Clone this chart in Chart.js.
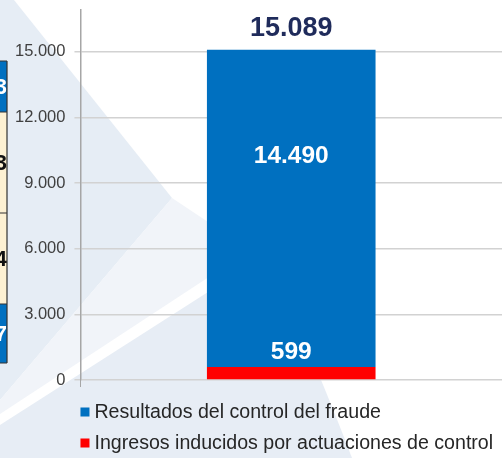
<!DOCTYPE html>
<html>
<head>
<meta charset="utf-8">
<script src="https://cdn.jsdelivr.net/npm/chart.js@4.4.1/dist/chart.umd.min.js"></script>
<style>
  html, body { margin: 0; padding: 0; background: #fff; }
  #wrap { width: 502px; height: 458px; position: relative; }
</style>
</head>
<body>
<div id="wrap"><canvas id="fraude"></canvas></div>
<script>
// ── Data ────────────────────────────────────────────────────────────
const categories = [''];
const ingresosInducidos = [599];
const resultadosControl = [14490];
const seriesNames = ['Ingresos inducidos por actuaciones de control', 'Resultados del control del fraude'];
const yTicks = [0, 3000, 6000, 9000, 12000, 15000];

// cut-off table cells seen on the left edge
const tableDigits = ['3', '3', '4', '7'];

const COLORS = { blue: '#0070C0', red: '#FF0000', navy: '#1F2B5B', text: '#262626' };
const FONT = "'Liberation Sans', Arial, sans-serif";

const fmt = v => String(v).replace(/\B(?=(\d{3})+(?!\d))/g, '.');

// ── Background (slide decoration + table fragment) ─────────────────
const backdrop = {
  id: 'backdrop',
  beforeDraw(chart) {
    const { ctx, width, height } = chart;
    ctx.save();
    ctx.fillStyle = '#ffffff';
    ctx.fillRect(0, 0, width, height);

    ctx.fillStyle = '#e6edf5';
    ctx.beginPath();
    ctx.moveTo(0, 0); ctx.lineTo(14, 0); ctx.lineTo(172, 198); ctx.lineTo(0, 400);
    ctx.closePath(); ctx.fill();

    ctx.fillStyle = '#f1f4f9';
    ctx.beginPath();
    ctx.moveTo(172, 198); ctx.lineTo(250, 250); ctx.lineTo(0, 414); ctx.lineTo(0, 400);
    ctx.closePath(); ctx.fill();

    ctx.fillStyle = '#e7edf5';
    ctx.beginPath();
    ctx.moveTo(0, 425); ctx.lineTo(255, 262); ctx.lineTo(300, 330);
    ctx.quadraticCurveTo(330, 400, 352, 458); ctx.lineTo(0, 458);
    ctx.closePath(); ctx.fill();

    // table fragment
    const rows = [[61, 112, COLORS.blue], [112, 213, '#fdf1d2'], [213, 304, '#fdf1d2'], [304, 363, COLORS.blue]];
    ctx.font = `bold 22px ${FONT}`;
    ctx.textAlign = 'right';
    ctx.textBaseline = 'middle';
    rows.forEach(([y0, y1, c], i) => {
      ctx.fillStyle = c;
      ctx.fillRect(0, y0, 7, y1 - y0);
      ctx.fillStyle = c === COLORS.blue ? '#ffffff' : '#111111';
      ctx.fillText(tableDigits[i], 7, (y0 + y1) / 2 + 1);
    });
    ctx.strokeStyle = '#333';
    ctx.lineWidth = 1.2;
    ctx.beginPath();
    ctx.moveTo(7, 61); ctx.lineTo(7, 363);
    [61, 112, 213, 304, 363].forEach(y => { ctx.moveTo(0, y); ctx.lineTo(7, y); });
    ctx.stroke();
    ctx.restore();
  },
};

// ── Bar value labels ───────────────────────────────────────────────
const valueLabels = {
  id: 'valueLabels',
  afterDatasetsDraw(chart) {
    const { ctx } = chart;
    const red = chart.getDatasetMeta(0).data[0];
    const blue = chart.getDatasetMeta(1).data[0];
    const total = ingresosInducidos[0] + resultadosControl[0];
    ctx.save();
    ctx.textAlign = 'center';
    ctx.textBaseline = 'middle';
    ctx.fillStyle = '#ffffff';
    ctx.font = `bold 24.5px ${FONT}`;
    ctx.fillText(fmt(resultadosControl[0]), blue.x, blue.y + (blue.base - blue.y) * 0.335);
    ctx.fillText(fmt(ingresosInducidos[0]), red.x, red.y - 15);
    ctx.fillStyle = COLORS.navy;
    ctx.font = `bold 27px ${FONT}`;
    ctx.fillText(fmt(total), blue.x, blue.y - 21);
    ctx.restore();
  },
};

// ── Legend under the plot, aligned with the axis ───────────────────
const sideLegend = {
  id: 'sideLegend',
  afterDraw(chart) {
    const { ctx, chartArea } = chart;
    const items = chart.data.datasets.slice().reverse();
    ctx.save();
    ctx.font = `19.6px ${FONT}`;
    ctx.textBaseline = 'middle';
    ctx.textAlign = 'left';
    items.forEach((ds, i) => {
      const y = chartArea.bottom + 32 + i * 31;
      ctx.fillStyle = ds.backgroundColor;
      ctx.fillRect(chartArea.left, y - 4.5, 9, 9);
      ctx.fillStyle = COLORS.text;
      ctx.fillText(ds.label, chartArea.left + 14, y + 1);
    });
    ctx.restore();
  },
};

// ── Chart ──────────────────────────────────────────────────────────
new Chart(document.getElementById('fraude'), {
  type: 'bar',
  data: {
    labels: categories,
    datasets: [
      { label: seriesNames[0], data: ingresosInducidos, backgroundColor: COLORS.red },
      { label: seriesNames[1], data: resultadosControl, backgroundColor: COLORS.blue },
    ],
  },
  options: {
    responsive: true,
    maintainAspectRatio: false,
    animation: false,
    layout: { padding: { left: 6, right: 0, top: 10, bottom: 71 } },
    datasets: { bar: { barPercentage: 0.4, categoryPercentage: 1 } },
    plugins: {
      legend: { display: false },
      tooltip: { enabled: false },
    },
    scales: {
      x: {
        stacked: true,
        ticks: { display: false },
        grid: { drawOnChartArea: false, tickLength: 7, color: '#a6a6a6' },
        border: { display: false },
      },
      y: {
        stacked: true,
        min: 0,
        max: 16900,
        afterBuildTicks: scale => { scale.ticks = yTicks.map(value => ({ value })); },
        afterFit: scale => { scale.paddingTop = 0; },
        ticks: {
          padding: 9,
          color: '#404040',
          font: { family: FONT, size: 16.5 },
          callback: v => fmt(v),
        },
        grid: { color: '#d2d2d2', lineWidth: 1.5, tickLength: 6 },
        border: { color: '#a6a6a6', width: 1.5 },
      },
    },
  },
  plugins: [backdrop, valueLabels, sideLegend],
});
</script>
</body>
</html>
